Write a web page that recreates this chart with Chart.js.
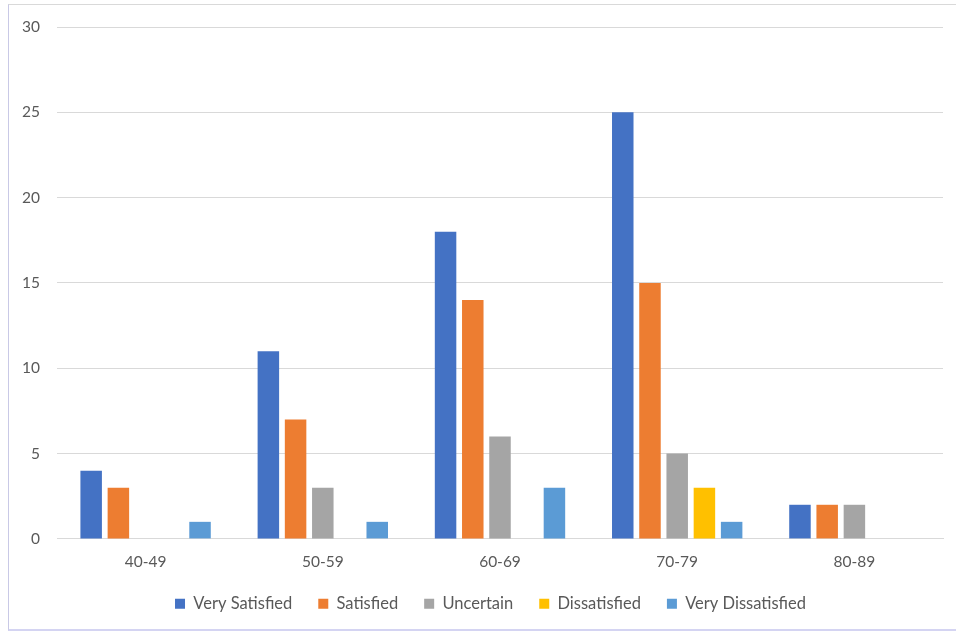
<!DOCTYPE html>
<html>
<head>
<meta charset="utf-8">
<script src="https://cdn.jsdelivr.net/npm/chart.js@4/dist/chart.umd.min.js"></script>
<style>
  html, body { margin: 0; padding: 0; background: #ffffff; }
  #wrap { position: relative; width: 956px; height: 635px; overflow: hidden; }
  #frame {
    position: absolute; left: 8px; top: 4px; width: 960px; height: 627px;
    border-top: 1px solid #d9d9d9; border-left: 1px solid #c9c9e6;
    border-bottom: 2px solid #d4d4f2; box-sizing: border-box;
  }
  canvas { position: absolute; left: 0; top: 0; }
</style>
</head>
<body>
<div id="wrap">
  <div id="frame"></div>
  <canvas id="c" width="956" height="635"></canvas>
</div>
<script>
// Age groups along the x axis
const ageGroups = ['40-49', '50-59', '60-69', '70-79', '80-89'];

// Respondent counts per satisfaction level
const verySatisfied    = [4, 11, 18, 25, 2];
const satisfied        = [3, 7, 14, 15, 2];
const uncertain        = [0, 3, 6, 5, 2];
const dissatisfied     = [0, 0, 0, 3, 0];
const veryDissatisfied = [1, 1, 3, 1, 0];

// Y axis range and step
const yMax = 30;
const yStep = 5;

const textColor = '#595959';
const gridColor = '#d9d9d9';
const fontFamily = 'Lato, "Open Sans", sans-serif';

Chart.defaults.font.family = fontFamily;
Chart.defaults.color = textColor;

// Nudge the legend block so it sits closer under the axis labels
const legendNudge = {
  id: 'legendNudge',
  afterLayout(chart) {
    const lg = chart.legend;
    if (!lg) return;
    const dx = 9, dy = -16;
    lg.left += dx; lg.right += dx;
    lg.top += dy; lg.bottom += dy;
  }
};

new Chart(document.getElementById('c'), {
  type: 'bar',
  plugins: [legendNudge],
  data: {
    labels: ageGroups,
    datasets: [
      { label: 'Very Satisfied', data: verySatisfied, backgroundColor: '#4472C4' },
      { label: 'Satisfied', data: satisfied, backgroundColor: '#ED7D31' },
      { label: 'Uncertain', data: uncertain, backgroundColor: '#A5A5A5' },
      { label: 'Dissatisfied', data: dissatisfied, backgroundColor: '#FFC000' },
      { label: 'Very Dissatisfied', data: veryDissatisfied, backgroundColor: '#5B9BD5' }
    ]
  },
  options: {
    responsive: false,
    animation: false,
    devicePixelRatio: 1,
    datasets: {
      bar: { barPercentage: 0.79, categoryPercentage: 0.768 }
    },
    layout: { padding: { left: 20, right: 13, top: 27, bottom: -3 } },
    plugins: {
      tooltip: { enabled: false },
      legend: {
        position: 'bottom',
        labels: {
          boxWidth: 10,
          boxHeight: 10,
          padding: 26,
          font: { size: 16.5 },
          color: textColor
        }
      }
    },
    scales: {
      x: {
        grid: { display: false, drawTicks: false },
        border: { color: gridColor, width: 1 },
        ticks: { padding: 14, font: { size: 15.5 }, color: textColor }
      },
      y: {
        min: 0,
        max: yMax,
        afterFit: (scale) => { scale.width = 37; },
        grid: { color: gridColor, lineWidth: 1, drawTicks: false },
        border: { display: false },
        ticks: { stepSize: yStep, padding: 17, font: { size: 15.5 }, color: textColor }
      }
    }
  }
});
</script>
</body>
</html>
